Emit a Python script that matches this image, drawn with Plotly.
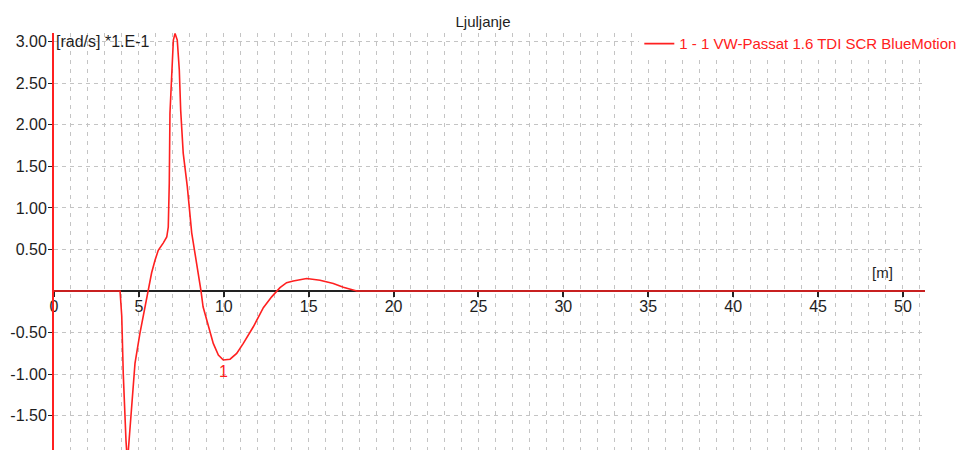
import plotly.graph_objects as go

FONT = "Liberation Sans, Arial, sans-serif"
RED = "#ff2020"
INK = "#1e1e1e"
GRID = "#c4c4c4"

# distance [m]
dist = [0.0, 3.89, 3.99, 4.08, 4.24, 4.32, 4.38, 4.58, 4.77, 5.06, 5.36, 5.58,
        5.75, 5.95, 6.14, 6.44, 6.64, 6.73, 6.79, 6.83, 6.93, 7.03, 7.13,
        7.26, 7.38, 7.46, 7.61, 7.85, 8.11, 8.40, 8.66, 8.78, 9.09, 9.38,
        9.68, 9.97, 10.37, 10.76, 11.15, 11.74, 12.33, 12.82, 13.31, 13.70,
        14.09, 14.88, 15.67, 16.45, 17.04, 17.83, 51.3]
# roll rate [rad/s] * 1E-1
roll = [0.0, 0.0, -0.30, -1.00, -1.80, -2.05, -1.91, -1.31, -0.87, -0.51,
        -0.19, 0.0, 0.22, 0.37, 0.49, 0.58, 0.65, 0.77, 1.30, 2.14, 2.66,
        3.02, 3.10, 3.02, 2.66, 2.18, 1.66, 1.26, 0.70, 0.34, 0.0, -0.19,
        -0.43, -0.63, -0.77, -0.83, -0.82, -0.75, -0.63, -0.43, -0.20, -0.07,
        0.04, 0.10, 0.12, 0.15, 0.13, 0.09, 0.045, 0.0, 0.0]

series_name = "1 - 1 VW-Passat 1.6 TDI SCR BlueMotion"
y_ticks = [3.0, 2.5, 2.0, 1.5, 1.0, 0.5, -0.5, -1.0, -1.5]
y_labels = ["3.00", "2.50", "2.00", "1.50", "1.00", "0.50", "-0.50", "-1.00", "-1.50"]
x_ticks = [0, 5, 10, 15, 20, 25, 30, 35, 40, 45, 50]

y_lo, y_hi = -1.913, 3.105
x_hi = 51.3

fig = go.Figure()
fig.add_trace(go.Scatter(
    x=dist, y=roll, mode="lines", name=series_name,
    line=dict(color=RED, width=1.6),
))

# label "1" at the local minimum after the main peak
tail = [(x, y) for x, y in zip(dist, roll) if x > 8.5]
mx, my = min(tail, key=lambda p: p[1])
fig.add_annotation(x=mx, y=my, text="1", showarrow=False, yanchor="top",
                   yshift=-1, font=dict(color=RED, size=16, family=FONT))

fig.add_annotation(x=0, xref="x", xshift=0, xanchor="left", y=3.0, yref="y",
                   text="[rad/s] *1.E-1", showarrow=False,
                   font=dict(color=INK, size=16, family=FONT))
fig.add_annotation(x=48.8, y=0.22, text="[m]", showarrow=False,
                   font=dict(color=INK, size=15, family=FONT))

# the page body adds an 8px offset, so margins are set 8px smaller on top/left
fig.update_layout(
    width=967, height=450,
    margin=dict(l=46, r=50, t=25, b=8, autoexpand=False),
    paper_bgcolor="white", plot_bgcolor="white",
    font=dict(family=FONT, color=INK, size=16),
    title=dict(text="Ljuljanje", x=(483 - 8) / 967, xanchor="center", y=1 - 14 / 450,
               yanchor="middle", font=dict(size=15, color=INK)),
    showlegend=True,
    legend=dict(x=0.672, xanchor="left", y=0.974, yanchor="middle",
                bgcolor="white", font=dict(color=RED, size=15),
                itemwidth=30, borderwidth=0),
    xaxis=dict(
        range=[0, x_hi], tickvals=x_ticks, anchor="free",
        position=(0 - y_lo) / (y_hi - y_lo), automargin=False,
        showline=True, linecolor="#222222", linewidth=1.5, layer="below traces",
        ticks="outside", ticklen=5, tickwidth=1.5, tickcolor="#222222",
        ticklabelstandoff=-4,
        showgrid=True, gridcolor=GRID, griddash="4px,5px", gridwidth=1,
        minor=dict(dtick=1, tick0=0, showgrid=True, gridcolor=GRID,
                   griddash="4px,5px", gridwidth=1),
        zeroline=False, tickfont=dict(size=16, color=INK),
    ),
    yaxis=dict(
        range=[y_lo, y_hi], tickvals=y_ticks, ticktext=y_labels, automargin=False,
        showline=True, linecolor=RED, linewidth=2,
        ticks="outside", ticklen=4, tickcolor="#222222", ticklabelstandoff=-2,
        showgrid=True, gridcolor=GRID, griddash="4px,4px", gridwidth=1,
        zeroline=False, tickfont=dict(size=16, color=INK),
    ),
)

fig.write_html("out.html")
